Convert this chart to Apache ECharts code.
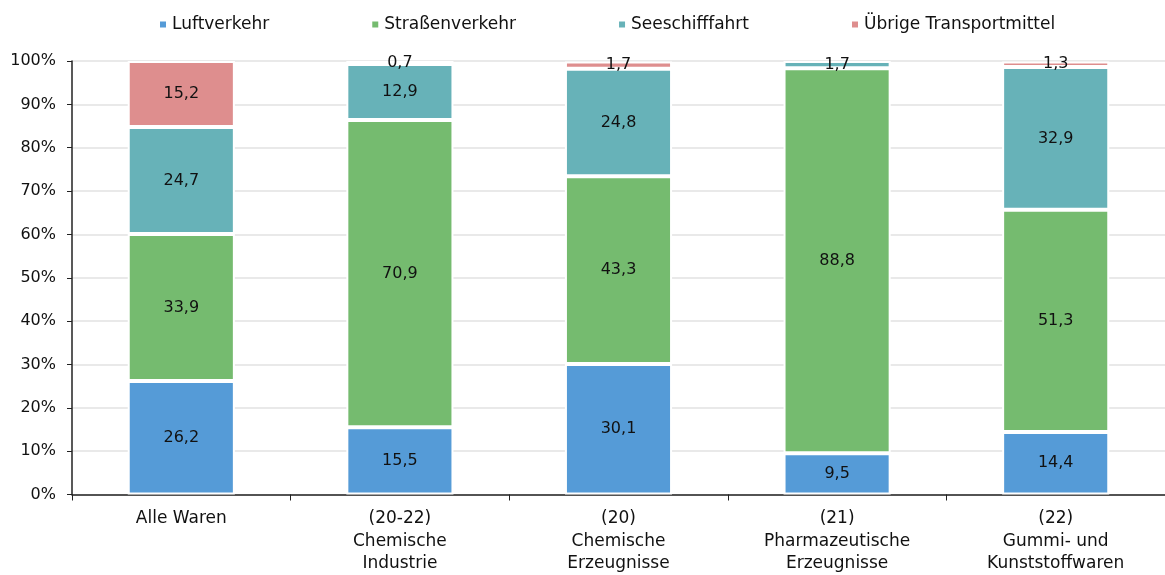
<!DOCTYPE html>
<html>
<head>
<meta charset="utf-8">
<script src="https://cdn.jsdelivr.net/npm/echarts@6/dist/echarts.min.js"></script>
<style>
  html, body { margin: 0; padding: 0; background: #fff; }
  #chart { width: 1165px; height: 575px; }
</style>
</head>
<body>
<div id="chart"></div>
<script>
  /** Data */
  var categories = ['Alle Waren', '(20-22)\nChemische\nIndustrie', '(20)\nChemische\nErzeugnisse',
    '(21)\nPharmazeutische\nErzeugnisse', '(22)\nGummi- und\nKunststoffwaren'];
  var luftverkehr = [26.2, 15.5, 30.1, 9.5, 14.4];
  var strassenverkehr = [33.9, 70.9, 43.3, 88.8, 51.3];
  var seeschifffahrt = [24.7, 12.9, 24.8, 1.7, 32.9];
  var uebrige = [15.2, 0.7, 1.7, null, 1.3];
  var yTicks = [0, 100, 10];

  var FONT = 'DejaVu Sans';

  function bar(name, data, color) {
    return {
      name: name,
      type: 'bar',
      stack: 'total',
      data: data,
      barWidth: '49%',
      itemStyle: { color: color, borderColor: '#fff', borderWidth: 2 },
      label: {
        show: true,
        position: 'inside',
        color: '#111',
        fontFamily: FONT,
        fontSize: 16,
        formatter: function(p) {
          return p.value == null ? '' : p.value.toFixed(1).replace('.', ',');
        }
      }
    };
  }

  var option = {
    animation: false,
    textStyle: { fontFamily: FONT },
    legend: {
      top: 11,
      left: 153,
      itemWidth: 8,
      itemHeight: 8,
      itemGap: 101,
      icon: 'rect',
      textStyle: { fontFamily: FONT, fontSize: 17, color: '#111' }
    },
    grid: { left: 72, top: 61, width: 1100, bottom: 79 },
    xAxis: {
      type: 'category',
      data: categories,
      axisLine: { lineStyle: { color: '#222', width: 1.5 } },
      axisTick: { show: true, length: 6, lineStyle: { color: '#222' } },
      axisLabel: { color: '#111', fontFamily: FONT, fontSize: 17, lineHeight: 22.5, margin: 13 }
    },
    yAxis: {
      type: 'value',
      min: yTicks[0],
      max: yTicks[1],
      interval: yTicks[2],
      axisLine: { show: true, lineStyle: { color: '#222', width: 1.5 } },
      axisTick: { show: true, length: 5, lineStyle: { color: '#222' } },
      axisLabel: { formatter: '{value}%', color: '#111', fontFamily: FONT, fontSize: 16, margin: 16 },
      splitLine: { lineStyle: { color: '#e2e2e2', width: 1.5 } }
    },
    series: [
      bar('Luftverkehr', luftverkehr, '#559bd7'),
      bar('Straßenverkehr', strassenverkehr, '#75bb6f'),
      bar('Seeschifffahrt', seeschifffahrt, '#67b2b8'),
      bar('Übrige Transportmittel', uebrige, '#de8e8e')
    ]
  };

  echarts.init(document.getElementById('chart')).setOption(option);
</script>
</body>
</html>
